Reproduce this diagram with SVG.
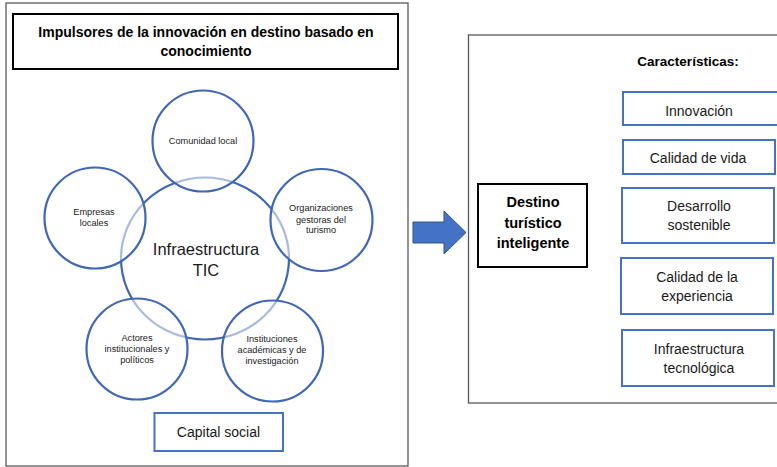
<svg xmlns="http://www.w3.org/2000/svg" width="777" height="467" viewBox="0 0 777 467">
<defs>
<style>
.frame{fill:#fff;stroke:#595959;stroke-width:1.3}
.blk{fill:#fff;stroke:#000;stroke-width:2}
.bbox{fill:#fff;stroke:#4472c4;stroke-width:2}
.circ{fill:#fff;fill-opacity:0.55;stroke:#3f67b5;stroke-width:2.2}
.big{fill:none;stroke:#3f67b5;stroke-width:2.2}
text{font-family:"Liberation Sans",Arial,sans-serif;fill:#1a1a1a;text-anchor:middle}
.b{font-weight:bold;fill:#000}
.s{font-size:9.2px}
.m{font-size:14px}
</style>
</defs>
<rect width="777" height="467" fill="#fff"/>
<g id="left-panel">
<rect class="frame" x="6" y="3" width="402" height="463"/>
</g>
<g id="title">
<rect class="blk" x="13" y="14" width="385" height="55"/>
<text class="b" x="206" y="37" font-size="14">Impulsores de la innovación en destino basado en</text>
<text class="b" x="206" y="56" font-size="14">conocimiento</text>
</g>
<g id="infraestructura-tic">
<ellipse class="big" cx="205" cy="258.5" rx="84" ry="81"/>
<text x="206" y="255" font-size="16.5">Infraestructura</text>
<text x="206" y="276" font-size="16.5">TIC</text>
</g>
<g id="comunidad-local">
<circle class="circ" cx="203" cy="141" r="50.5"/>
<text class="s" x="203" y="144">Comunidad local</text>
</g>
<g id="empresas-locales">
<circle class="circ" cx="95" cy="218" r="50.5"/>
<text class="s" x="94" y="215">Empresas</text>
<text class="s" x="94" y="226">locales</text>
</g>
<g id="organizaciones">
<circle class="circ" cx="321.5" cy="220" r="51"/>
<text class="s" x="321" y="211">Organizaciones</text>
<text class="s" x="321" y="222.5">gestoras del</text>
<text class="s" x="321" y="233">turismo</text>
</g>
<g id="actores">
<circle class="circ" cx="137" cy="349" r="50.5"/>
<text class="s" x="137" y="341">Actores</text>
<text class="s" x="137" y="352">institucionales y</text>
<text class="s" x="137" y="363">políticos</text>
</g>
<g id="instituciones">
<circle class="circ" cx="272.5" cy="351" r="50.5"/>
<text class="s" x="272" y="342">Instituciones</text>
<text class="s" x="272" y="353">académicas y de</text>
<text class="s" x="272" y="364">investigación</text>
</g>
<g id="capital-social">
<rect class="bbox" x="154.5" y="413" width="128.5" height="38"/>
<text class="m" x="218.5" y="437">Capital social</text>
</g>
<g id="connectors">
<path d="M413,222 L444,222 L444,211 L466,232.5 L444,254 L444,243 L413,243 Z" fill="#4472c4" stroke="#2f528f" stroke-width="1"/>
</g>
<g id="right-panel">
<rect class="frame" x="468.5" y="35" width="330" height="368"/>
<text class="b" x="688" y="66" font-size="13.5">Características:</text>
</g>
<g id="destino">
<rect class="blk" x="478" y="184" width="109" height="83"/>
<text class="b" x="533" y="207" font-size="14.5">Destino</text>
<text class="b" x="533" y="227.5" font-size="14.5">turístico</text>
<text class="b" x="533" y="248" font-size="14.5">inteligente</text>
</g>
<g id="innovacion">
<rect class="bbox" x="623" y="92" width="160" height="33"/>
<text class="m" x="699" y="116">Innovación</text>
</g>
<g id="calidad-vida">
<rect class="bbox" x="623" y="140" width="152" height="34"/>
<text class="m" x="698" y="163">Calidad de vida</text>
</g>
<g id="desarrollo">
<rect class="bbox" x="622" y="188" width="152" height="55"/>
<text class="m" x="699" y="211">Desarrollo</text>
<text class="m" x="699" y="230">sostenible</text>
</g>
<g id="calidad-experiencia">
<rect class="bbox" x="621" y="258" width="152" height="56"/>
<text class="m" x="697" y="282">Calidad de la</text>
<text class="m" x="697" y="301">experiencia</text>
</g>
<g id="infraestructura-tecnologica">
<rect class="bbox" x="622" y="330" width="152" height="56"/>
<text class="m" x="699" y="354">Infraestructura</text>
<text class="m" x="699" y="373">tecnológica</text>
</g>
</svg>
